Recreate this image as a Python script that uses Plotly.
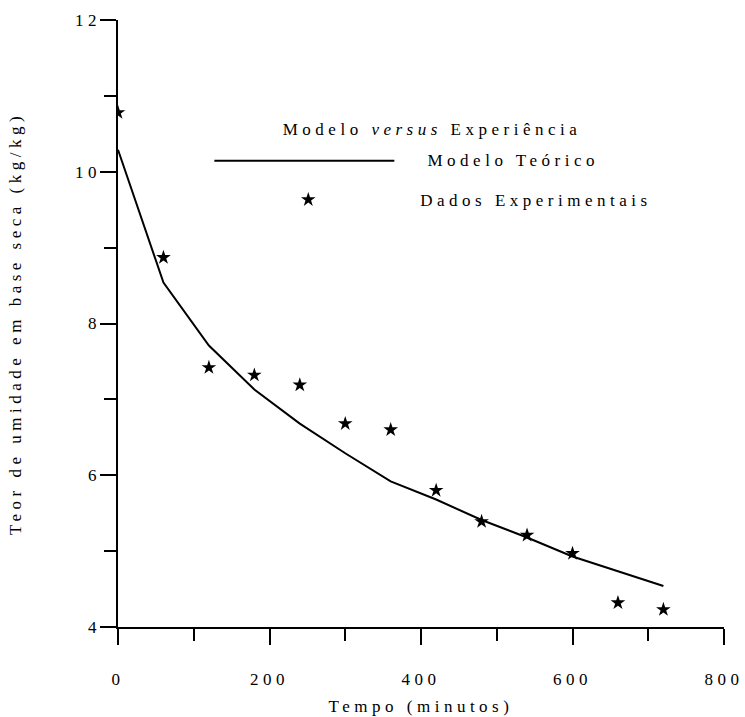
import plotly.graph_objects as go

# ---- data ----
tempo_modelo = [0, 60, 120, 180, 240, 300, 360, 420, 480, 540, 600, 660, 720]
teor_modelo = [10.29, 8.54, 7.71, 7.13, 6.68, 6.29, 5.92, 5.68, 5.41, 5.18, 4.93, 4.73, 4.54]

tempo_exp = [0, 60, 120, 180, 240, 300, 360, 420, 480, 540, 600, 660, 720]
teor_exp = [10.78, 8.87, 7.42, 7.32, 7.19, 6.68, 6.60, 5.80, 5.39, 5.21, 4.97, 4.32, 4.23]

x_ticks = [0, 200, 400, 600, 800]
y_ticks = [4, 6, 8, 10, 12]

legend_title = "Modelo <i>versus</i> Experiência"
legend_modelo = "Modelo Teórico"
legend_dados = "Dados Experimentais"
x_title = "Tempo (minutos)"
y_title = "Teor de umidade em base seca (kg/kg)"

FONT = "Liberation Serif, DejaVu Serif, serif"

fig = go.Figure()
fig.add_trace(go.Scatter(x=tempo_modelo, y=teor_modelo, mode="lines",
                         line=dict(color="black", width=2), showlegend=False))
fig.add_trace(go.Scatter(x=tempo_exp, y=teor_exp, mode="markers",
                         marker=dict(symbol="star", size=11, color="black"),
                         showlegend=False))
# legend star symbol on an overlay unit axis
fig.add_trace(go.Scatter(x=[0.314], y=[0.704], mode="markers", xaxis="x2", yaxis="y2",
                         marker=dict(symbol="star", size=11, color="black"),
                         showlegend=False, hoverinfo="skip"))

axis_common = dict(showgrid=False, zeroline=False, showline=True, linecolor="black",
                   linewidth=2, ticks="outside", ticklen=16, tickwidth=2, tickcolor="black",
                   automargin=False, tickfont=dict(family=FONT, size=17, color="black"))

fig.update_layout(
    width=745, height=717,
    margin=dict(l=118, r=21, t=20, b=90),
    paper_bgcolor="white", plot_bgcolor="white",
    font=dict(family=FONT, size=17, color="black"),
    xaxis=dict(range=[0, 800], tickvals=x_ticks, ticklabelstandoff=20,
               minor=dict(dtick=100, ticklen=12, tickwidth=2, ticks="outside", tickcolor="black"),
               title=dict(text=x_title, standoff=12, font=dict(family=FONT, size=17)),
               **axis_common),
    yaxis=dict(range=[4, 12], tickvals=y_ticks, ticklabelstandoff=0,
               minor=dict(dtick=1, ticklen=12, tickwidth=2, ticks="outside", tickcolor="black"),
               title=dict(text=y_title, standoff=54, font=dict(family=FONT, size=17)),
               **axis_common),
    xaxis2=dict(range=[0, 1], overlaying="x", visible=False, fixedrange=True),
    yaxis2=dict(range=[0, 1], overlaying="y", visible=False, fixedrange=True),
    shapes=[dict(type="line", xref="paper", yref="paper", x0=0.159, x1=0.456,
                 y0=0.768, y1=0.768, line=dict(color="black", width=2))],
    annotations=[
        dict(text=legend_title, xref="paper", yref="paper", x=0.518, y=0.819,
             showarrow=False, xanchor="center", yanchor="middle"),
        dict(text=legend_modelo, xref="paper", yref="paper", x=0.652, y=0.768,
             showarrow=False, xanchor="center", yanchor="middle"),
        dict(text=legend_dados, xref="paper", yref="paper", x=0.690, y=0.702,
             showarrow=False, xanchor="center", yanchor="middle"),
    ],
)

post = ("document.body.style.margin='0';"
        "document.querySelectorAll('.main-svg text').forEach(function(t){"
        "t.style.fontFamily=\"'Liberation Serif', 'DejaVu Serif', serif\";"
        "t.style.letterSpacing='4.5px';});"
        "document.querySelectorAll('.ytick text').forEach(function(t){"
        "t.setAttribute('dx','4.5');});")
fig.write_html("out.html", post_script=post, config={"displayModeBar": False})
